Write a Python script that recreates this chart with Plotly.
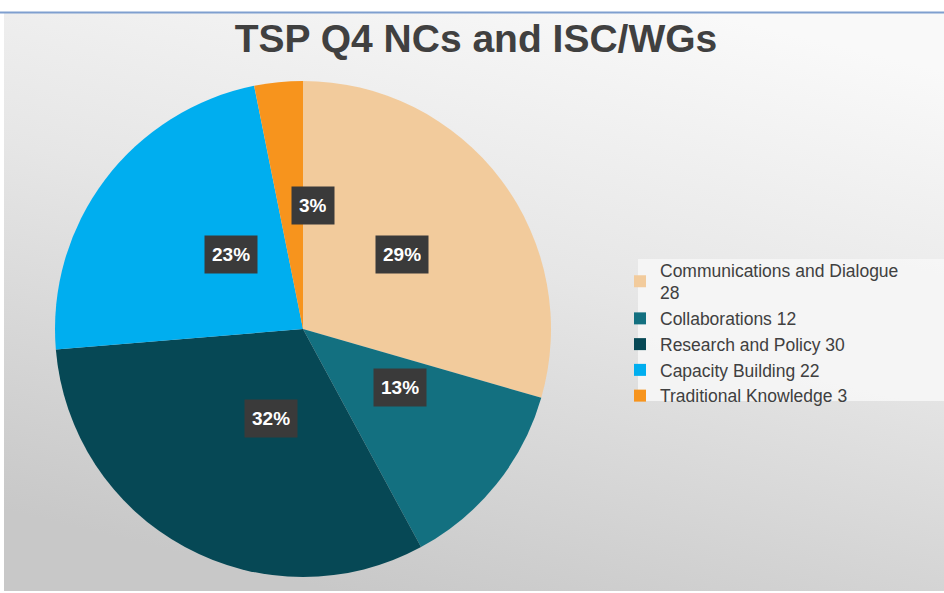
import math
import base64
import plotly.graph_objects as go

# ---- data ----
categories = ["Communications and Dialogue", "Collaborations", "Research and Policy",
              "Capacity Building", "Traditional Knowledge"]
values = [28, 12, 30, 22, 3]
colors = ["#F2CB9C", "#137080", "#064855", "#00AEEF", "#F7941D"]
title_text = "TSP Q4 NCs and ISC/WGs"

W, H = 944, 593
# pie geometry (pixels)
cx, cy, R = 303, 329, 248

legend_labels = []
for c, v in zip(categories, values):
    if c == "Communications and Dialogue":
        legend_labels.append(f"{c}<br>{v}")
    else:
        legend_labels.append(f"{c} {v}")

fig = go.Figure()
fig.add_trace(go.Pie(
    labels=legend_labels,
    values=values,
    marker=dict(colors=colors, line=dict(width=0)),
    sort=False,
    direction="clockwise",
    rotation=0,
    textinfo="none",
    hoverinfo="label+percent",
    domain=dict(x=[(cx - R) / W, (cx + R) / W], y=[1 - (cy + R) / H, 1 - (cy - R) / H]),
))

# percentage labels with dark boxes, placed at half radius along slice mid-angle
total = sum(values)
cum = 0
annotations = []
for v in values:
    mid = (cum + v / 2) / total
    theta = math.radians(90 - 360 * mid)
    px = cx + 0.5 * R * math.cos(theta)
    py = cy - 0.5 * R * math.sin(theta)
    pct = round(100 * v / total)
    annotations.append(dict(
        x=px / W, y=1 - py / H, xref="paper", yref="paper",
        text=f"<b>{pct}%</b>", showarrow=False,
        font=dict(family="Arial, Liberation Sans", size=19, color="white"),
        bgcolor="#3A3A3A", borderpad=7, height=23,
    ))
    cum += v

# gradient background as svg
svg = f'''<svg xmlns="http://www.w3.org/2000/svg" width="{W}" height="{H}" preserveAspectRatio="none">
<defs><linearGradient id="g" x1="0.75" y1="0" x2="0.35" y2="1">
<stop offset="0" stop-color="#F9F9F9"/><stop offset="0.45" stop-color="#E6E6E6"/><stop offset="1" stop-color="#C8C8C8"/>
</linearGradient></defs>
<rect width="{W}" height="{H}" fill="url(#g)"/></svg>'''
src = "data:image/svg+xml;base64," + base64.b64encode(svg.encode()).decode()

fig.update_layout(
    width=W, height=H,
    margin=dict(l=0, r=0, t=0, b=0),
    paper_bgcolor="white",
    images=[dict(source=src, xref="paper", yref="paper", x=4 / W, y=1 - 13 / H,
                 sizex=1 - 4 / W, sizey=1 - 13 / H - 2 / H, sizing="stretch",
                 xanchor="left", yanchor="top", layer="below")],
    shapes=[
        dict(type="line", xref="paper", yref="paper", x0=0, x1=1,
             y0=1 - 12.5 / H, y1=1 - 12.5 / H, line=dict(color="#7F9FCF", width=2)),
        dict(type="rect", xref="paper", yref="paper", x0=638 / W, x1=1,
             y0=1 - 401 / H, y1=1 - 259 / H, fillcolor="rgba(246,246,246,0.9)",
             line=dict(width=0), layer="below"),
    ],
    title=dict(text=f"<b>{title_text}</b>", x=476 / W, xanchor="center", y=1 - 38 / H, yanchor="middle",
               font=dict(family="Arial, Liberation Sans", size=39, color="#404040")),
    legend=dict(x=620 / W, y=1 - 252 / H, xanchor="left", yanchor="top",
                bgcolor="rgba(0,0,0,0)", traceorder="normal",
                font=dict(family="Arial, Liberation Sans", size=17.5, color="#404040"),
                itemwidth=30),
    annotations=annotations,
    showlegend=True,
)

fig.write_html("out.html", config={"displayModeBar": False},
               post_script="document.body.style.margin='0px';")
